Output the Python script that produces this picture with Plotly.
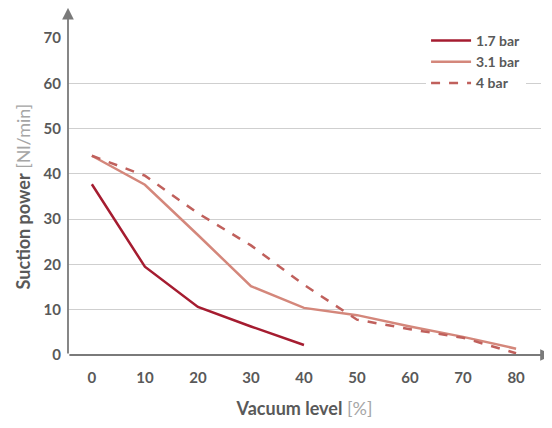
import plotly.graph_objects as go

vacuum = [0, 10, 20, 30, 40, 50, 60, 70, 80]
s17_x = [0, 10, 20, 30, 40]
s17_y = [37.7, 19.5, 10.6, 6.3, 2.2]
s31_y = [44.0, 37.6, 26.5, 15.2, 10.4, 8.8, 6.3, 4.0, 1.4]
s40_y = [44.0, 39.6, 31.3, 24.2, 15.5, 7.8, 5.7, 3.8, 0.4]
names = ["1.7 bar", "3.1 bar", "4 bar"]
y_ticks = [0, 10, 20, 30, 40, 50, 60, 70]

FONT = "Lato"
GRAY = "#595959"
AX = "#7a7a7a"
BOLD = dict(family=FONT, size=15, color=GRAY, weight="bold")

fig = go.Figure()
fig.add_trace(go.Scatter(x=s17_x, y=s17_y, mode="lines", name=names[0],
                         line=dict(color="#a51c30", width=2.5)))
fig.add_trace(go.Scatter(x=vacuum, y=s31_y, mode="lines", name=names[1],
                         line=dict(color="#d4877b", width=2.5)))
fig.add_trace(go.Scatter(x=vacuum, y=s40_y, mode="lines", name=names[2],
                         line=dict(color="#c0605c", width=2.5, dash="dash")))

fig.update_layout(
    width=544, height=420,
    margin=dict(l=60, r=11, t=30, b=73),
    plot_bgcolor="white", paper_bgcolor="white",
    font=dict(family=FONT, color=GRAY, size=15),
    showlegend=True,
    legend=dict(x=0.757, y=1.041, xanchor="left", yanchor="top",
                bgcolor="white", font=dict(family=FONT, size=14, color=GRAY, weight="bold"),
                tracegroupgap=0, itemwidth=40),
    xaxis=dict(range=[-4.5, 84.7], tickvals=vacuum, showgrid=False, zeroline=False,
               showline=False, ticks="outside", ticklen=9, tickcolor="rgba(0,0,0,0)",
               tickfont=BOLD, automargin=False,
               title=dict(text="<b>Vacuum level</b> <span style='color:#a6a6a6'>[%]</span>",
                          font=dict(family=FONT, size=18, color=GRAY), standoff=17)),
    yaxis=dict(range=[0, 70], tickvals=y_ticks, showgrid=True, gridcolor="#cfcfcf",
               gridwidth=1.2, zeroline=False, showline=False,
               ticks="outside", ticklen=3, tickcolor="rgba(0,0,0,0)",
               tickfont=BOLD, automargin=False,
               title=dict(text="<b>Suction power</b> <span style='color:#a6a6a6'>[Nl/min]</span>",
                          font=dict(family=FONT, size=18, color=GRAY), standoff=8)),
)

# axis lines with arrowheads (tail given as pixel offset from tip)
fig.add_annotation(x=1.023, y=0, xref="x domain", yref="y domain",
                   ax=-484, ay=0, axref="pixel", ayref="pixel",
                   showarrow=True, arrowhead=2, arrowsize=1.3, arrowwidth=1.8,
                   arrowcolor=AX, text="")
fig.add_annotation(x=0, y=1.095, xref="x domain", yref="y domain",
                   ax=0, ay=347, axref="pixel", ayref="pixel",
                   showarrow=True, arrowhead=2, arrowsize=1.3, arrowwidth=1.8,
                   arrowcolor=AX, text="")

fig.write_html("out.html")
